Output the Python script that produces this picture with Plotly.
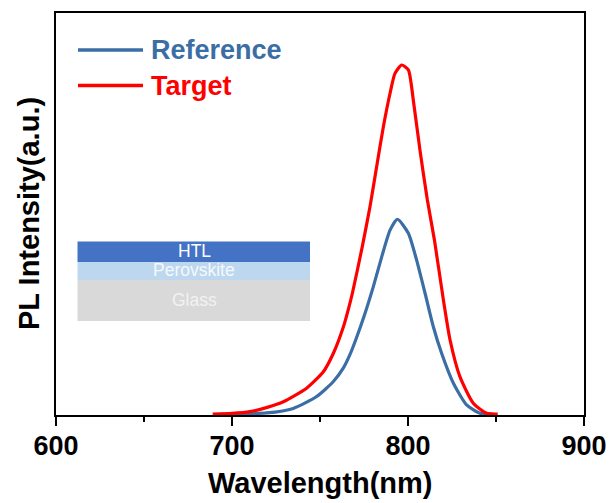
import plotly.graph_objects as go

# Data (wavelength in nm, normalized PL intensity)
ref_wl = [700, 719.7, 734.8, 748.1, 757.6, 763.3, 767.0, 769.9, 775.6, 780.3, 785.1,
          789.8, 794.0, 800.2, 804.9, 809.7, 814.4, 819.1, 825.8, 833.3, 840.9, 848]
ref_pl = [0.0, 0.003, 0.016, 0.050, 0.093, 0.132, 0.170, 0.207, 0.289, 0.365, 0.451,
          0.527, 0.558, 0.518, 0.441, 0.346, 0.250, 0.174, 0.088, 0.026, 0.002, 0.0]

tgt_wl = [689, 700, 710.2, 720, 729.2, 742.4, 751.9, 757.6, 763.3, 766.1, 768.4, 774.0,
          778.4, 782.2, 786.0, 789.8, 792.6, 796.4, 800.2, 803.0, 806.8, 811.0, 815.0,
          820.1, 823.9, 829.5, 837.1, 844.7, 851]
tgt_pl = [0.0, 0.002, 0.007, 0.019, 0.035, 0.074, 0.121, 0.174, 0.250, 0.300, 0.346, 0.479,
          0.594, 0.709, 0.823, 0.919, 0.976, 1.0, 0.986, 0.900, 0.756, 0.613, 0.499,
          0.327, 0.212, 0.107, 0.031, 0.002, 0.0]

series_names = ["Reference", "Target"]
x_ticks = [600, 700, 800, 900]
layers = ["HTL", "Perovskite", "Glass"]

BLUE = "#3A6EA5"
RED = "#FF0000"
FONT = "Liberation Sans, Arial, sans-serif"

fig = go.Figure()
fig.add_trace(go.Scatter(x=ref_wl, y=ref_pl, mode="lines", name=series_names[0],
                         line=dict(color=BLUE, width=3.2, shape="spline", smoothing=0.6)))
fig.add_trace(go.Scatter(x=tgt_wl, y=tgt_pl, mode="lines", name=series_names[1],
                         line=dict(color=RED, width=3.2, shape="spline", smoothing=0.6)))

L, R, T, B = 56, 26, 13, 88
W, H = 610, 503
pw, ph = W - L - R, H - T - B

def px(xp):
    return (xp - L) / pw

def py(yp):
    return (H - B - yp) / ph

shapes = []
annotations = []

# manual legend
for i, (name, col, yp) in enumerate([(series_names[0], BLUE, 50), (series_names[1], RED, 85.5)]):
    shapes.append(dict(type="line", xref="paper", yref="paper", x0=px(78), x1=px(143),
                       y0=py(yp), y1=py(yp), line=dict(color=col, width=3.5)))
    annotations.append(dict(xref="paper", yref="paper", x=px(149), y=py(yp), xanchor="left",
                            yanchor="middle", showarrow=False, text="<b>%s</b>" % name,
                            font=dict(family=FONT, size=27, color=col)))

# inset device stack
stack = [(layers[0], "#4472C4", 241.5, 262, "#FFFFFF"),
         (layers[1], "#BDD7EE", 262, 280, "#F4F9FD"),
         (layers[2], "#D9D9D9", 280, 321, "#F2F2F2")]
for name, fill, y0, y1, tc in stack:
    shapes.append(dict(type="rect", xref="paper", yref="paper", x0=px(77.5), x1=px(310),
                       y0=py(y1), y1=py(y0), fillcolor=fill, line=dict(width=0), layer="above"))
    annotations.append(dict(xref="paper", yref="paper", x=px(194), y=py((y0 + y1) / 2 - 1),
                            xanchor="center", yanchor="middle", showarrow=False, text=name,
                            font=dict(family=FONT, size=17.5, color=tc)))

# axis titles
annotations.append(dict(xref="paper", yref="paper", x=0.5, y=0, yshift=-68, xanchor="center",
                        yanchor="middle", showarrow=False, text="<b>Wavelength(nm)</b>",
                        font=dict(family=FONT, size=29, color="black")))
annotations.append(dict(xref="paper", yref="paper", x=0, y=0.5, xshift=-27, xanchor="center",
                        yanchor="middle", showarrow=False, text="<b>PL Intensity(a.u.)</b>",
                        textangle=-90, font=dict(family=FONT, size=29, color="black")))

fig.update_layout(
    width=W, height=H, margin=dict(l=L, r=R, t=T, b=B, autoexpand=False),
    plot_bgcolor="white", paper_bgcolor="white", showlegend=False,
    shapes=shapes, annotations=annotations,
    font=dict(family=FONT, color="black"),
)
fig.update_xaxes(range=[600, 900], tickvals=x_ticks, ticktext=["<b>%d</b>" % v for v in x_ticks],
                 ticks="outside", ticklen=9, tickwidth=2, tickcolor="black",
                 ticklabelstandoff=-3,
                 showline=True, linewidth=2, linecolor="black", mirror=True,
                 showgrid=False, zeroline=False, automargin=False,
                 tickfont=dict(family=FONT, size=27, color="black"),
                 minor=dict(tickvals=[650, 750, 850], ticks="outside", ticklen=5,
                            tickwidth=2, tickcolor="black"))
fig.update_yaxes(range=[-0.00287, 1.149], showticklabels=False, ticks="",
                 showline=True, linewidth=2, linecolor="black", mirror=True,
                 showgrid=False, zeroline=False, automargin=False)

fig.write_html("out.html")
